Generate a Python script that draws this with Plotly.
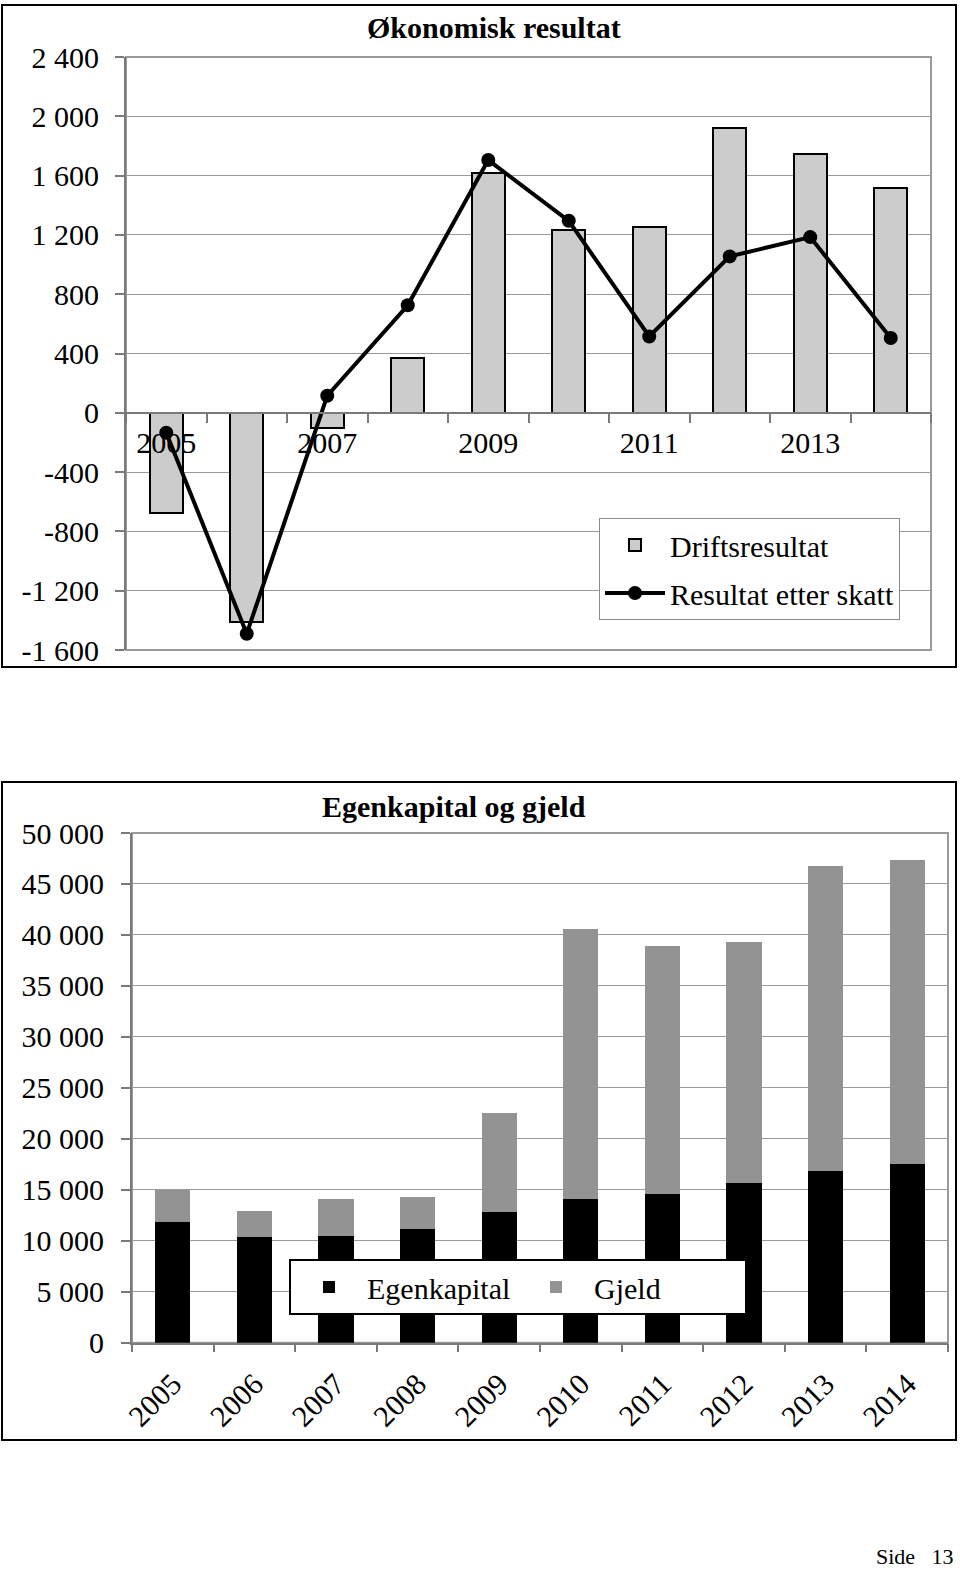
import plotly.graph_objects as go

# ---------------- data ----------------
years = [2005, 2006, 2007, 2008, 2009, 2010, 2011, 2012, 2013, 2014]
driftsresultat = [-675, -1410, -100, 370, 1620, 1230, 1250, 1920, 1745, 1515]
resultat_etter_skatt = [-135, -1490, 115, 725, 1705, 1295, 515, 1055, 1185, 505]

top_y_ticks = [-1600, -1200, -800, -400, 0, 400, 800, 1200, 1600, 2000, 2400]
top_y_labels = ["-1 600", "-1 200", "-800", "-400", "0", "400", "800",
                "1 200", "1 600", "2 000", "2 400"]
top_x_ticks = [2005, 2007, 2009, 2011, 2013]
top_x_labels = ["2005", "2007", "2009", "2011", "2013"]

year_labels = ["2005", "2006", "2007", "2008", "2009",
               "2010", "2011", "2012", "2013", "2014"]
egenkapital = [11850, 10340, 10450, 11200, 12850, 14100, 14600, 15700, 16850, 17500]
gjeld = [3150, 2560, 3650, 3050, 9650, 26500, 24300, 23600, 29900, 29900]
bottom_y_ticks = [0, 5000, 10000, 15000, 20000, 25000, 30000, 35000, 40000, 45000, 50000]
bottom_y_labels = ["0", "5 000", "10 000", "15 000", "20 000", "25 000",
                   "30 000", "35 000", "40 000", "45 000", "50 000"]

# ---------------- geometry helpers ----------------
W, H = 960, 1574
def fx(p):
    return p / W
def fy(p):
    return 1 - p / H

FONT = "Liberation Serif"
GRID = "#9a9a9a"
AXIS = "#7a7a7a"

top_xd = [fx(126), fx(931)]
top_yd = [fy(650), fy(57)]
top_range = [-1600, 2400]
zero_pos = top_yd[0] + (0 - top_range[0]) / (top_range[1] - top_range[0]) * (top_yd[1] - top_yd[0])

bot_xd = [fx(132), fx(948)]
bot_yd = [fy(1342.7), fy(833)]

fig = go.Figure()

fig.add_trace(go.Bar(
    x=years, y=driftsresultat, name="Driftsresultat", width=0.41,
    marker=dict(color="#cccccc", line=dict(color="black", width=2)),
    xaxis="x", yaxis="y", legend="legend", legendgroup="a",
))
fig.add_trace(go.Scatter(
    x=years, y=resultat_etter_skatt, name="Resultat etter skatt",
    mode="lines+markers", line=dict(color="black", width=4),
    marker=dict(color="black", size=14),
    xaxis="x", yaxis="y", legend="legend", legendgroup="b",
))
fig.add_trace(go.Bar(
    x=year_labels, y=egenkapital, name="Egenkapital", width=0.43,
    marker=dict(color="black", line=dict(width=0)),
    xaxis="x2", yaxis="y2", legend="legend2",
))
fig.add_trace(go.Bar(
    x=year_labels, y=gjeld, name="Gjeld", width=0.43,
    marker=dict(color="#939393", line=dict(width=0)),
    xaxis="x2", yaxis="y2", legend="legend2",
))

fig.update_layout(
    template="none",
    width=W, height=H, autosize=False,
    margin=dict(l=0, r=0, t=0, b=0, pad=0),
    paper_bgcolor="white", plot_bgcolor="white",
    font=dict(family=FONT, size=30, color="black"),
    barmode="stack",
    xaxis=dict(
        domain=top_xd, range=[2004.5, 2014.5], type="linear",
        anchor="free", position=zero_pos, automargin=False,
        tickmode="array", tickvals=top_x_ticks, ticktext=top_x_labels,
        ticks="", showgrid=False, zeroline=False,
        showline=True, linecolor=AXIS, linewidth=1.5,
        minor=dict(tickmode="linear", tick0=2004.5, dtick=1, ticks="outside",
                   ticklen=9, tickcolor=AXIS, tickwidth=1.5, showgrid=False),
        ticklabelstandoff=3,
        fixedrange=True,
    ),
    xaxis3=dict(
        domain=top_xd, range=[2004.5, 2014.5], type="linear",
        overlaying="x", anchor="free", position=zero_pos, automargin=False,
        tickmode="linear", tick0=2004.5, dtick=1, ticks="inside",
        ticklen=10, tickcolor=AXIS, tickwidth=1.5,
        showticklabels=False, showgrid=False, showline=False, zeroline=False,
    ),
    yaxis=dict(
        domain=top_yd, range=top_range, anchor="x", automargin=False,
        tickmode="array", tickvals=top_y_ticks, ticktext=top_y_labels,
        ticks="outside", ticklen=9, tickcolor=AXIS, tickwidth=1.5,
        showgrid=True, gridcolor=GRID, gridwidth=1, zeroline=False,
        showline=True, linecolor=AXIS, linewidth=2,
        ticklabelstandoff=10,
    ),
    xaxis2=dict(
        domain=bot_xd, type="category", anchor="y2", automargin=False,
        tickson="boundaries", ticks="outside", ticklen=8,
        tickcolor=AXIS, tickwidth=1.5, tickangle=-45,
        showgrid=False, zeroline=False,
        showline=True, linecolor=AXIS, linewidth=1.5,
        ticklabelstandoff=10,
    ),
    yaxis2=dict(
        domain=bot_yd, range=[0, 50000], anchor="x2", automargin=False,
        tickmode="array", tickvals=bottom_y_ticks, ticktext=bottom_y_labels,
        ticks="outside", ticklen=9, tickcolor=AXIS, tickwidth=1.5,
        showgrid=True, gridcolor=GRID, gridwidth=1, zeroline=False,
        showline=True, linecolor=AXIS, linewidth=2,
        ticklabelstandoff=11,
    ),
    legend=dict(
        x=fx(599), y=fy(518), xanchor="left", yanchor="top",
        bgcolor="white", bordercolor="#8a8a8a", borderwidth=1,
        font=dict(family=FONT, size=30, color="black"),
        itemwidth=60, traceorder="grouped", tracegroupgap=6,
    ),
    legend2=dict(
        orientation="h",
        x=fx(289), y=fy(1259), xanchor="left", yanchor="top",
        bgcolor="white", bordercolor="black", borderwidth=2,
        font=dict(family=FONT, size=30, color="black"),
        traceorder="normal", itemwidth=66, entrywidth=146,
    ),
    showlegend=True,
)

# outer chart boxes and plot-area borders
fig.add_shape(type="rect", xref="paper", yref="paper",
              x0=fx(2), x1=fx(956), y0=fy(667), y1=fy(5),
              line=dict(color="black", width=2), fillcolor="rgba(0,0,0,0)", layer="below")
fig.add_shape(type="rect", xref="paper", yref="paper",
              x0=fx(2), x1=fx(956), y0=fy(1440), y1=fy(782),
              line=dict(color="black", width=2), fillcolor="rgba(0,0,0,0)", layer="below")
fig.add_shape(type="rect", xref="x domain", yref="y domain",
              x0=0, x1=1, y0=0, y1=1, line=dict(color=GRID, width=2), layer="below")
fig.add_shape(type="rect", xref="x2 domain", yref="y2 domain",
              x0=0, x1=1, y0=0, y1=1, line=dict(color=GRID, width=2), layer="below")

# titles and page number
fig.add_annotation(text="<b>Økonomisk resultat</b>", xref="paper", yref="paper",
                   x=fx(494), y=fy(28), xanchor="center", yanchor="middle",
                   showarrow=False, font=dict(family=FONT, size=30, color="black"))
fig.add_annotation(text="<b>Egenkapital og gjeld</b>", xref="paper", yref="paper",
                   x=fx(454), y=fy(806), xanchor="center", yanchor="middle",
                   showarrow=False, font=dict(family=FONT, size=30, color="black"))
fig.add_annotation(text="Side   13", xref="paper", yref="paper",
                   x=fx(956), y=fy(1556), xanchor="right", yanchor="middle",
                   showarrow=False, font=dict(family=FONT, size=22, color="black"))

fig.write_html("out.html")
